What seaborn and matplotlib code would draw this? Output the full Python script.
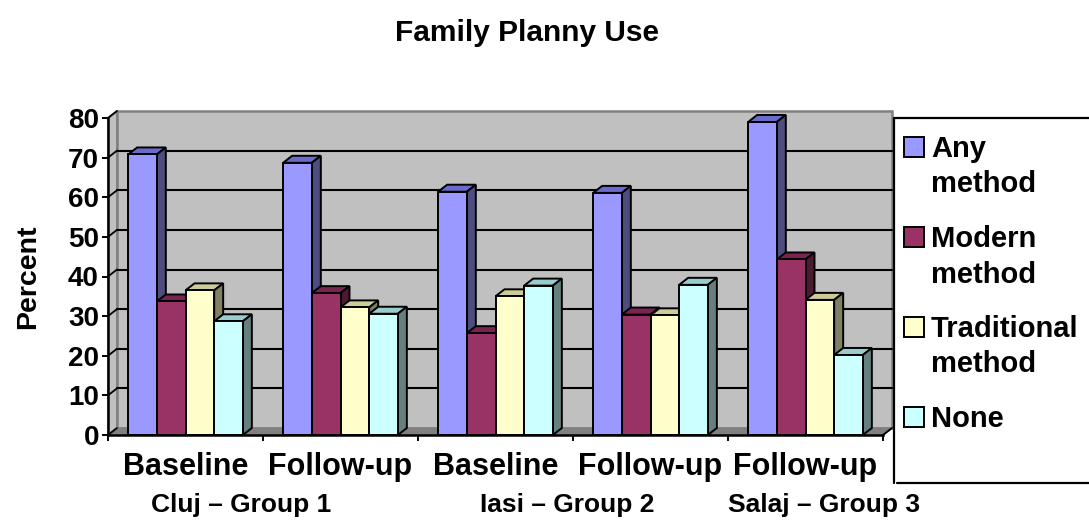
import numpy as np
import pandas as pd
import matplotlib
matplotlib.use("Agg")
import matplotlib.pyplot as plt
from matplotlib.patches import Polygon, Rectangle
from matplotlib.lines import Line2D
from matplotlib.transforms import blended_transform_factory
import seaborn as sns

# ---------------- data ----------------
title = "Family Planny Use"
y_label = "Percent"
category_keys = ["Cluj Baseline", "Cluj Follow-up", "Iasi Baseline", "Iasi Follow-up", "Salaj Follow-up"]
category_labels = ["Baseline", "Follow-up", "Baseline", "Follow-up", "Follow-up"]
group_labels = ["Cluj \u2013 Group 1", "Iasi \u2013 Group 2", "Salaj \u2013 Group 3"]
methods = ["Any method", "Modern method", "Traditional method", "None"]
legend_lines = [["Any", "method"], ["Modern", "method"], ["Traditional", "method"], ["None"]]

any_method = [70.8, 68.7, 61.4, 61.1, 79.0]
modern_method = [33.7, 35.8, 25.7, 30.4, 44.3]
traditional_method = [36.5, 32.2, 35.0, 30.2, 34.1]
none_method = [28.7, 30.6, 37.7, 37.9, 20.2]

y_ticks = [0, 10, 20, 30, 40, 50, 60, 70, 80]

# ---------------- style ----------------
front_colors = ["#9999FF", "#993366", "#FFFFCC", "#CCFFFF"]
side_colors = ["#4D4D80", "#4D1A33", "#808066", "#668080"]
top_colors = ["#6B6BCC", "#7A2452", "#CCCC99", "#99CCCC"]

sns.set_theme(style="white")
plt.rcParams["font.family"] = ["Liberation Sans", "DejaVu Sans"]
plt.rcParams["font.weight"] = "bold"
plt.rcParams["text.color"] = "black"
plt.rcParams["xtick.color"] = "black"
plt.rcParams["ytick.color"] = "black"
plt.rcParams["axes.labelcolor"] = "black"

W, H = 1089, 520
fig = plt.figure(figsize=(W / 100, H / 100), dpi=100)
fig.patch.set_facecolor("white")

ax_l, ax_r, ax_b, ax_t = 108, 883, 435, 118
ax = fig.add_axes([ax_l / W, 1 - ax_b / H, (ax_r - ax_l) / W, (ax_b - ax_t) / H])
ax.set_facecolor("none")

df = pd.DataFrame({
    "key": category_keys * 4,
    "method": sum([[m] * len(category_keys) for m in methods], []),
    "value": any_method + modern_method + traditional_method + none_method,
})

sns.barplot(data=df, x="key", y="value", hue="method", order=category_keys,
            hue_order=methods, palette=front_colors, saturation=1,
            width=0.74, gap=0, edgecolor="black", linewidth=1.4,
            legend=False, ax=ax, errorbar=None)

ax.set_xlim(-0.5, len(category_keys) - 0.5)
ax.set_ylim(0, 80)
ax.set_xlabel("")
ax.set_ylabel("")

# depth offsets (pixels -> data)
dx_px, dy_px = 9.0, 7.0
xr = ax.get_xlim()[1] - ax.get_xlim()[0]
ddx = dx_px / (ax_r - ax_l) * xr
ddy = dy_px / (ax_b - ax_t) * 80
x0a, x1a = ax.get_xlim()

# walls and floor
ax.add_patch(Rectangle((x0a + ddx, ddy), xr, 80, facecolor="#C0C0C0",
                       edgecolor="#808080", lw=1.8, zorder=0.2, clip_on=False))
ax.add_patch(Polygon([(x0a, 0), (x0a + ddx, ddy), (x0a + ddx, 80 + ddy), (x0a, 80)],
                     closed=True, facecolor="#C0C0C0", edgecolor="#808080", lw=1.4,
                     zorder=0.3, clip_on=False))
ax.add_patch(Polygon([(x0a, 0), (x1a, 0), (x1a + ddx, ddy), (x0a + ddx, ddy)],
                     closed=True, facecolor="#808080", edgecolor="#808080", lw=1.0,
                     zorder=0.4, clip_on=False))
ax.plot([x1a, x1a + ddx], [0, ddy], color="black", lw=1.4, zorder=0.45, clip_on=False)
for v in y_ticks:
    if 0 < v < 80:
        ax.plot([x0a + ddx, x1a + ddx], [v + ddy, v + ddy], color="black", lw=1.5,
                zorder=0.5, clip_on=False)
    ax.plot([x0a, x0a + ddx], [v, v + ddy], color="black", lw=1.3, zorder=0.5, clip_on=False)

# 3D faces for bars
bars = []
for hi, cont in enumerate(ax.containers):
    for p in cont.patches:
        bars.append((p.get_x(), hi, p))
bars.sort(key=lambda t: t[0])
for k, (bx, hi, p) in enumerate(bars):
    w = p.get_width()
    h = p.get_height()
    top = Polygon([(bx, h), (bx + w, h), (bx + w + ddx, h + ddy), (bx + ddx, h + ddy)],
                  closed=True, facecolor=top_colors[hi], edgecolor="black", lw=1.4,
                  zorder=2 + 2 * k, clip_on=False)
    side = Polygon([(bx + w, 0), (bx + w, h), (bx + w + ddx, h + ddy), (bx + w + ddx, ddy)],
                   closed=True, facecolor=side_colors[hi], edgecolor="black", lw=1.4,
                   zorder=2 + 2 * k, clip_on=False)
    ax.add_patch(top)
    ax.add_patch(side)
    p.set_zorder(3 + 2 * k)
    p.set_clip_on(False)

# spines / ticks
for s in ["top", "right"]:
    ax.spines[s].set_visible(False)
for s in ["left", "bottom"]:
    ax.spines[s].set_visible(True)
    ax.spines[s].set_color("black")
    ax.spines[s].set_linewidth(1.8)
    ax.spines[s].set_zorder(100)

ax.set_yticks(y_ticks)
ax.set_yticklabels([str(v) for v in y_ticks], fontsize=20, fontweight="bold", color="black")
ax.tick_params(axis="y", which="major", direction="out", length=4.5, width=1.4,
               color="black", pad=2, left=True)
ax.set_xticks(range(len(category_keys)))
ax.set_xticklabels(category_labels, fontsize=22, fontweight="bold", color="black")
ax.tick_params(axis="x", which="major", length=0, pad=12)
ax.set_xticks(np.arange(-0.5, len(category_keys), 1.0), minor=True)
ax.tick_params(axis="x", which="minor", direction="out", length=4.5, width=1.4,
               color="black", bottom=True)
ax.grid(False)

# group labels
tr = blended_transform_factory(ax.transData, fig.transFigure)
group_x = [0.36, 2.46, 4.12]
for gx, gl in zip(group_x, group_labels):
    ax.text(gx, 1 - 505 / H, gl, transform=tr, ha="center", va="center",
            fontsize=19, fontweight="bold", color="black")

# title and y label
fig.text(527 / W, 1 - 33 / H, title, ha="center", va="center", fontsize=21.5,
         fontweight="bold", color="black")
fig.text(28 / W, 1 - 277 / H, y_label, ha="center", va="center", rotation=90,
         fontsize=20.5, fontweight="bold", color="black")

# legend (manual, Excel-like)
lx = 894
fig.add_artist(Line2D([lx / W, lx / W], [1 - 118 / H, 1 - 483 / H], color="black", lw=1.6,
                      transform=fig.transFigure))
fig.add_artist(Line2D([lx / W, 1.0], [1 - 118 / H, 1 - 118 / H], color="black", lw=1.6,
                      transform=fig.transFigure))
fig.add_artist(Line2D([897 / W, 1.0], [1 - 483 / H, 1 - 483 / H], color="black", lw=1.6,
                      transform=fig.transFigure))
baselines = [[157, 192], [247, 283], [337, 372], [427]]
for i, (lines, bl) in enumerate(zip(legend_lines, baselines)):
    fig.add_artist(Rectangle((904 / W, 1 - bl[0] / H), 20 / W, 20 / H,
                             facecolor=front_colors[i], edgecolor="black", lw=1.4,
                             transform=fig.transFigure))
    for txt, b in zip(lines, bl):
        fig.text(931 / W, 1 - b / H, txt, ha="left", va="baseline", fontsize=21,
                 fontweight="bold", color="black")

fig.savefig("out.png", dpi=100, facecolor="white")
